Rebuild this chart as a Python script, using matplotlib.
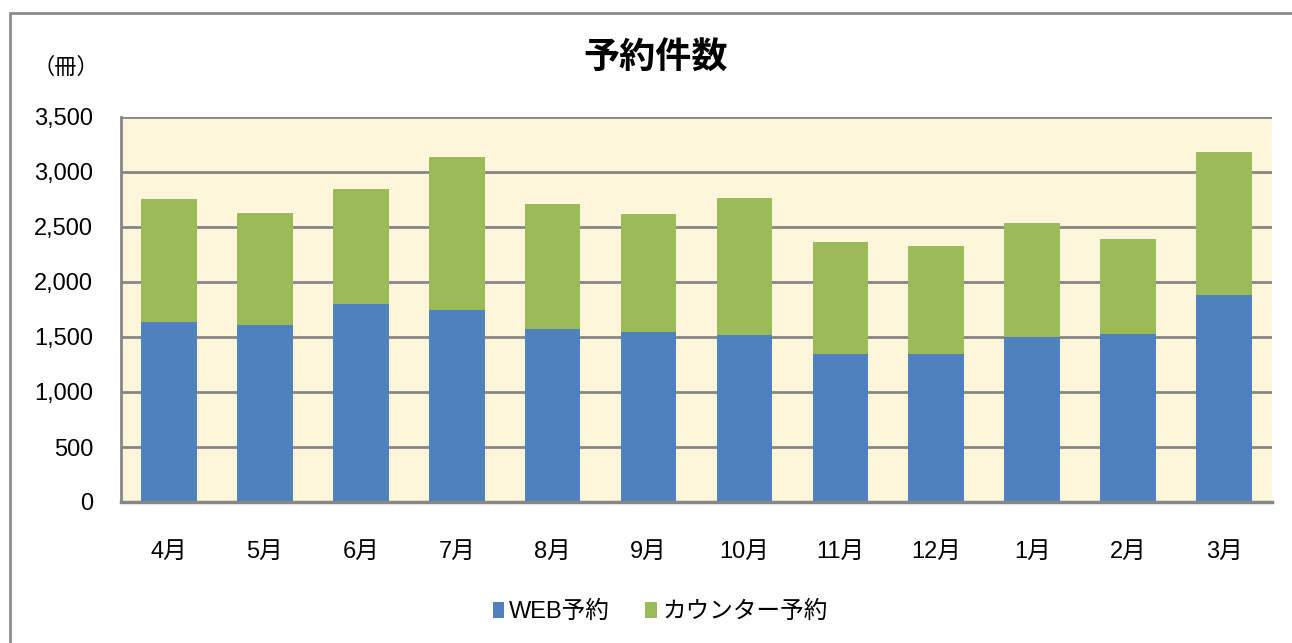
import matplotlib.pyplot as plt
from matplotlib.patches import Rectangle
import numpy as np

plt.rcParams['font.family'] = ['Liberation Sans', 'Noto Sans CJK JP']

months = ['4月', '5月', '6月', '7月', '8月', '9月', '10月', '11月', '12月', '1月', '2月', '3月']
web = [1640, 1610, 1800, 1745, 1570, 1545, 1515, 1348, 1348, 1503, 1530, 1880]
total = [2755, 2627, 2845, 3136, 2710, 2618, 2765, 2364, 2327, 2536, 2391, 3182]
counter = [t - w for t, w in zip(total, web)]

blue = '#4F81BD'
green = '#9BBB59'

fig = plt.figure(figsize=(12.92, 6.43), dpi=100)
# outer chart frame
fig.patches.append(Rectangle((10 / 1292, -0.05), 1.1, 1 - 13 / 643 + 0.05,
                             transform=fig.transFigure, fill=False,
                             edgecolor='#8c8c8c', linewidth=2))

ax = fig.add_axes([121 / 1292, 1 - 502 / 643, (1272 - 121) / 1292, (502 - 117) / 643])
ax.set_facecolor('#FEF6DA')

x = np.arange(len(months))
ax.bar(x, web, width=0.58, color=blue, label='WEB予約', zorder=3)
ax.bar(x, counter, width=0.58, bottom=web, color=green, label='カウンター予約', zorder=3)

ax.set_xlim(-0.5, len(months) - 0.5)
ax.set_ylim(0, 3500)
ax.set_yticks(range(0, 3501, 500))
ax.set_yticklabels([f'{v:,}' for v in range(0, 3501, 500)], fontsize=17)
ax.set_xticks(x)
ax.set_xticklabels(months, fontsize=17)
ax.tick_params(axis='both', length=0)
ax.tick_params(axis='y', pad=20)
ax.tick_params(axis='x', pad=28)
ax.yaxis.grid(True, color='#868686', linewidth=2, zorder=1)
ax.set_axisbelow(True)
for s in ['top', 'right']:
    ax.spines[s].set_visible(False)
ax.spines['left'].set_color('#868686')
ax.spines['left'].set_linewidth(2)
ax.spines['bottom'].set_color('#868686')
ax.spines['bottom'].set_linewidth(2.5)
ax.spines['bottom'].set_zorder(4)

fig.text(656 / 1292, 1 - 58 / 643, '予約件数', ha='center', va='center',
         fontsize=26, fontweight='bold')
fig.text(66 / 1292, 1 - 68 / 643, '（冊）', ha='center', va='center', fontsize=16)

leg = fig.legend(loc='center', bbox_to_anchor=(660 / 1292, 1 - 612 / 643), ncol=2,
                 frameon=False, fontsize=17, handlelength=0.5, handleheight=0.7,
                 handletextpad=0.2, columnspacing=1.5)

fig.savefig('out.png', dpi=100)
